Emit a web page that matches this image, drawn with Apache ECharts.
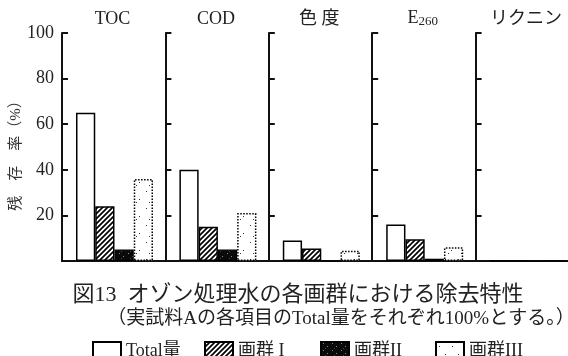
<!DOCTYPE html>
<html>
<head>
<meta charset="utf-8">
<script src="https://cdn.jsdelivr.net/npm/echarts@6/dist/echarts.min.js"></script>
<style>
  html, body { margin: 0; padding: 0; background: #fff; }
  #chart { width: 568px; height: 356px; }
</style>
</head>
<body>
<div id="chart"></div>
<script>
// Measured items (one panel each) and the four fractions shown in every panel
const categories = ['TOC', 'COD', '色 度', 'E260', 'リクニン'];
const seriesNames = ['Total量', '画群 I', '画群II', '画群III'];

// Residual ratio (%) per item, one array per fraction
const totalVals  = [65, 40, 9, 16, 0];
const group1Vals = [24, 15, 5.5, 9.5, 0];
const group2Vals = [5, 5, 0, 1, 0];
const group3Vals = [36, 21, 4.5, 6, 0];
const valueArrays = [totalVals, group1Vals, group2Vals, group3Vals];

// Y axis ticks
const yMin = 0, yMax = 100, yStep = 20;

const SERIF = '"Liberation Serif", "DejaVu Serif", "Noto Sans CJK JP", serif';

// ---- fill patterns ----
function makeTile(w, h, draw) {
  const c = document.createElement('canvas');
  c.width = w; c.height = h;
  const ctx = c.getContext('2d');
  draw(ctx, w, h);
  return { image: c, repeat: 'repeat' };
}
// diagonal hatching (///)
const hatchFill = makeTile(5, 5, (ctx, w, h) => {
  ctx.fillStyle = '#fff'; ctx.fillRect(0, 0, w, h);
  ctx.strokeStyle = '#000'; ctx.lineWidth = 1.7;
  ctx.beginPath();
  ctx.moveTo(-1, h + 1); ctx.lineTo(w + 1, -1);
  ctx.moveTo(-w / 2 - 1, h / 2 + 1); ctx.lineTo(w / 2 + 1, -h / 2 - 1);
  ctx.moveTo(w / 2 - 1, h * 1.5 + 1); ctx.lineTo(w * 1.5 + 1, h / 2 - 1);
  ctx.stroke();
});
// solid black with a few light specks
const darkFill = makeTile(9, 7, (ctx, w, h) => {
  ctx.fillStyle = '#0a0a0a'; ctx.fillRect(0, 0, w, h);
  ctx.fillStyle = '#888';
  ctx.fillRect(2, 1, 1, 1);
  ctx.fillRect(6, 4, 1, 1);
  ctx.fillStyle = '#444';
  ctx.fillRect(4, 6, 1, 1);
});
// white with sparse dots
const dotFill = makeTile(13, 17, (ctx, w, h) => {
  ctx.fillStyle = '#fff'; ctx.fillRect(0, 0, w, h);
  ctx.fillStyle = '#333';
  ctx.fillRect(3, 4, 1, 1);
  ctx.fillRect(9, 12, 1, 1);
  ctx.fillRect(6, 15, 1, 1);
});

const styles = [
  { color: '#fff',     borderColor: '#000', borderWidth: 1.5, borderType: 'solid' },
  { color: hatchFill,  borderColor: '#000', borderWidth: 1.5, borderType: 'solid' },
  { color: darkFill,   borderColor: '#000', borderWidth: 1.2, borderType: 'solid' },
  { color: dotFill,    borderColor: '#000', borderWidth: 1.5, borderType: 'dotted' }
];

// ---- layout of the five panels ----
const plotTop = 33, plotBottom = 95;
const firstBarsLeft = 76, panelStep = 103.4, barsWidth = 77, axisOffset = 14;

const grids = [], xAxes = [], yAxes = [], series = [];

categories.forEach((cat, i) => {
  grids.push({
    left: firstBarsLeft + i * panelStep,
    width: barsWidth,
    top: plotTop,
    bottom: plotBottom
  });
  xAxes.push({
    type: 'category',
    gridIndex: i,
    position: 'top',
    data: [cat],
    axisLine: { show: false },
    axisTick: { show: false },
    axisLabel: {
      margin: 5,
      fontFamily: SERIF,
      fontSize: 18,
      color: '#222',
      padding: [0, 4, 0, 0],
      formatter: v => v === 'E260' ? '{e|E}{s|260}' : v,
      rich: {
        e: { fontFamily: SERIF, fontSize: 18, color: '#222' },
        s: { fontFamily: SERIF, fontSize: 13, color: '#222', padding: [6, 0, 0, 0] }
      }
    }
  });
  yAxes.push({
    type: 'value',
    gridIndex: i,
    min: yMin,
    max: yMax,
    interval: yStep,
    offset: axisOffset,
    name: i === 0 ? '残　存　率（%）' : '',
    nameLocation: 'middle',
    nameGap: 31,
    nameTextStyle: { fontFamily: SERIF, fontSize: 15, color: '#333', padding: [0, 10, 0, 0] },
    axisLine: { show: true, lineStyle: { color: '#111', width: 2 } },
    axisTick: { show: true, inside: true, length: 6, lineStyle: { color: '#111', width: 2 } },
    splitLine: { show: false },
    axisLabel: {
      show: i === 0,
      margin: 8,
      fontFamily: SERIF,
      fontSize: 18,
      color: '#222',
      formatter: v => (v === 0 ? '' : String(v))
    }
  });
  valueArrays.forEach((vals, k) => {
    series.push({
      type: 'bar',
      name: seriesNames[k],
      xAxisIndex: i,
      yAxisIndex: i,
      barGap: '0%',
      barCategoryGap: '0%',
      itemStyle: styles[k],
      emphasis: { disabled: true },
      animation: false,
      data: [vals[i]]
    });
  });
});

// Continuous base line running under all five panels
grids.push({ left: 62, right: 0, top: plotTop, bottom: plotBottom });
xAxes.push({
  type: 'value', gridIndex: categories.length, min: 0, max: 1, position: 'bottom',
  axisLine: { show: true, lineStyle: { color: '#111', width: 2 } },
  axisTick: { show: false }, axisLabel: { show: false }, splitLine: { show: false }
});
yAxes.push({ type: 'value', gridIndex: categories.length, show: false });

// One legend block per fraction so the four keys sit on an even pitch
const legendLefts = [87, 199, 315, 430];
const legends = seriesNames.map((name, k) => ({
  data: [name],
  left: legendLefts[k],
  top: 336,
  itemWidth: 28,
  itemHeight: 18,
  itemGap: 0,
  icon: 'rect',
  selectedMode: false,
  textStyle: { fontFamily: SERIF, fontSize: 18, color: '#222' }
}));

const option = {
  backgroundColor: '#fff',
  animation: false,
  title: [
    {
      text: '図13  オゾン処理水の各画群における除去特性',
      left: 293, textAlign: 'center', top: 279,
      textStyle: { fontFamily: SERIF, fontSize: 22, fontWeight: 'normal', color: '#222' }
    },
    {
      text: '（実試料Aの各項目のTotal量をそれぞれ100%とする。）',
      left: 336, textAlign: 'center', top: 305,
      textStyle: { fontFamily: SERIF, fontSize: 19, fontWeight: 'normal', color: '#222' }
    }
  ],
  legend: legends,
  grid: grids,
  xAxis: xAxes,
  yAxis: yAxes,
  series: series
};

const chart = echarts.init(document.getElementById('chart'), null, { renderer: 'canvas' });
chart.setOption(option);
</script>
</body>
</html>
